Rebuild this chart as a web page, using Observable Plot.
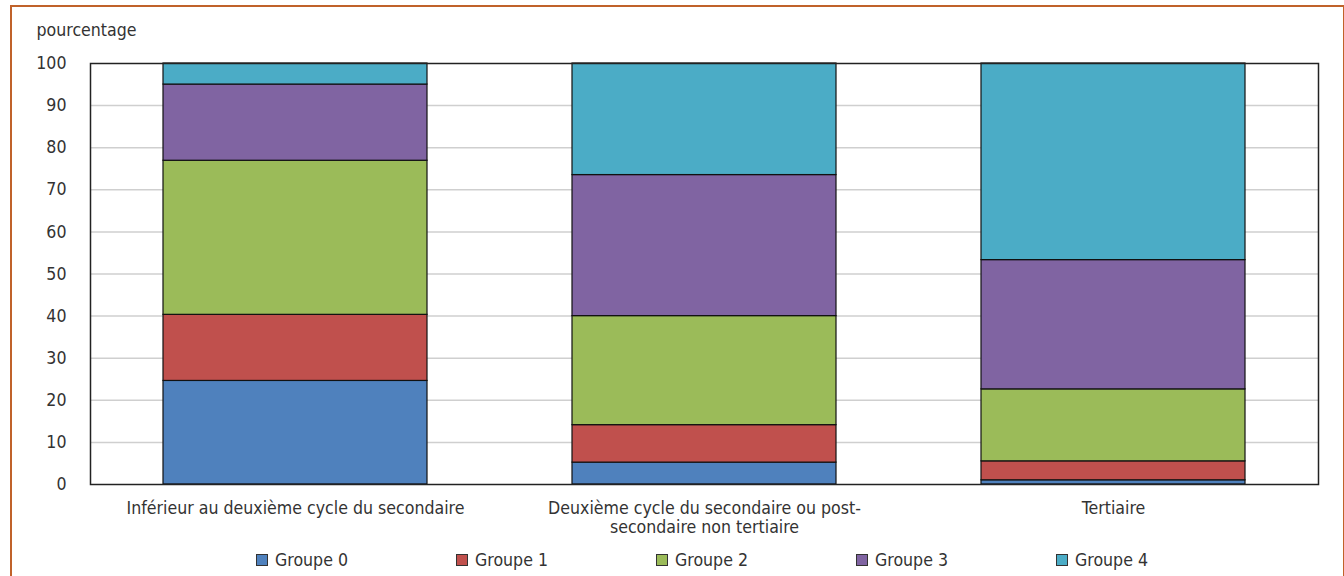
<!DOCTYPE html>
<html>
<head>
<meta charset="utf-8">
<script src="https://cdn.jsdelivr.net/npm/d3@7"></script>
<script src="https://cdn.jsdelivr.net/npm/@observablehq/plot@0.6"></script>
<style>
  html, body { margin: 0; padding: 0; background: #fff; overflow: hidden; }
  body { width: 1344px; height: 576px; position: relative;
         font-family: "Liberation Sans Narrow", "Arial Narrow", "DejaVu Sans Condensed", "Roboto", sans-serif; color: #333; }
  #frame { position: absolute; left: 10px; top: 5px; width: 1331px; height: 600px;
           border: 2px solid #C0622A; box-sizing: content-box; }
  #chart { position: absolute; left: 0; top: 0; }
  #legend { position: absolute; top: 549px; left: 0; width: 1344px; height: 22px; }
  .item { position: absolute; top: 0; display: flex; align-items: center; font-size: 17.6px; line-height: 22px; white-space: nowrap; }
  .sw { width: 10px; height: 10px; border: 1px solid #333; margin-right: 7px; }
</style>
</head>
<body>
<div id="frame"></div>
<div id="chart"></div>
<div id="legend"></div>
<script>
const categories = [
  "Inférieur au deuxième cycle du secondaire",
  "Deuxième cycle du secondaire ou post-secondaire non tertiaire",
  "Tertiaire"
];
const categoryLabels = [
  "Inférieur au deuxième cycle du secondaire",
  "Deuxième cycle du secondaire ou post-\nsecondaire non tertiaire",
  "Tertiaire"
];
const groups = ["Groupe 0", "Groupe 1", "Groupe 2", "Groupe 3", "Groupe 4"];
const colors = ["#4F81BD", "#C0504D", "#9BBB59", "#8064A2", "#4BACC6"];
const groupe0 = [24.6, 5.2, 1.0];
const groupe1 = [15.7, 8.9, 4.5];
const groupe2 = [36.6, 25.9, 17.1];
const groupe3 = [18.1, 33.5, 30.7];
const groupe4 = [5.0, 26.5, 46.7];
const series = [groupe0, groupe1, groupe2, groupe3, groupe4];
const yTicks = [0, 10, 20, 30, 40, 50, 60, 70, 80, 90, 100];
const yLabel = "pourcentage";

const data = [];
groups.forEach((g, gi) => categories.forEach((c, ci) => data.push({cat: c, group: g, value: series[gi][ci]})));

const font = '"Liberation Sans Narrow", "Arial Narrow", "DejaVu Sans Condensed", "Roboto", sans-serif';
const fs = 17.6;

const chart = Plot.plot({
  width: 1344,
  height: 540,
  marginLeft: 90,
  marginRight: 26,
  marginTop: 63,
  marginBottom: 56,
  style: {fontFamily: font, fontSize: fs + "px", color: "#333", background: "transparent"},
  x: {domain: categories, paddingInner: 0.355, paddingOuter: 0.1775, label: null},
  y: {domain: [0, 100], label: null},
  color: {domain: groups, range: colors},
  marks: [
    Plot.gridY(yTicks.filter(d => d > 0 && d < 100), {stroke: "#cfcfcf", strokeOpacity: 1, strokeWidth: 1.5}),
    Plot.barY(data, {x: "cat", y: "value", fill: "group", stroke: "#111", strokeWidth: 1.2}),
    Plot.frame({stroke: "#222", strokeWidth: 1.5}),
    Plot.axisY(yTicks, {tickSize: 0, tickPadding: 24, label: null, fontSize: fs}),
    Plot.axisX({tickSize: 0, tickPadding: 15, label: null, fontSize: fs,
      tickFormat: d => categoryLabels[categories.indexOf(d)], lineHeight: 1.12}),
    Plot.text([yLabel], {frameAnchor: "top-left", text: d => d, textAnchor: "start", dx: -54, dy: -40, fontSize: fs, fill: "#333"})
  ]
});
document.getElementById("chart").appendChild(chart);

const legend = document.getElementById("legend");
const legendX = [256, 456, 656, 856, 1056];
groups.forEach((g, i) => {
  const it = document.createElement("div");
  it.className = "item";
  it.style.left = legendX[i] + "px";
  const sw = document.createElement("div");
  sw.className = "sw";
  sw.style.background = colors[i];
  const t = document.createElement("span");
  t.textContent = g;
  it.appendChild(sw); it.appendChild(t);
  legend.appendChild(it);
});
</script>
</body>
</html>
